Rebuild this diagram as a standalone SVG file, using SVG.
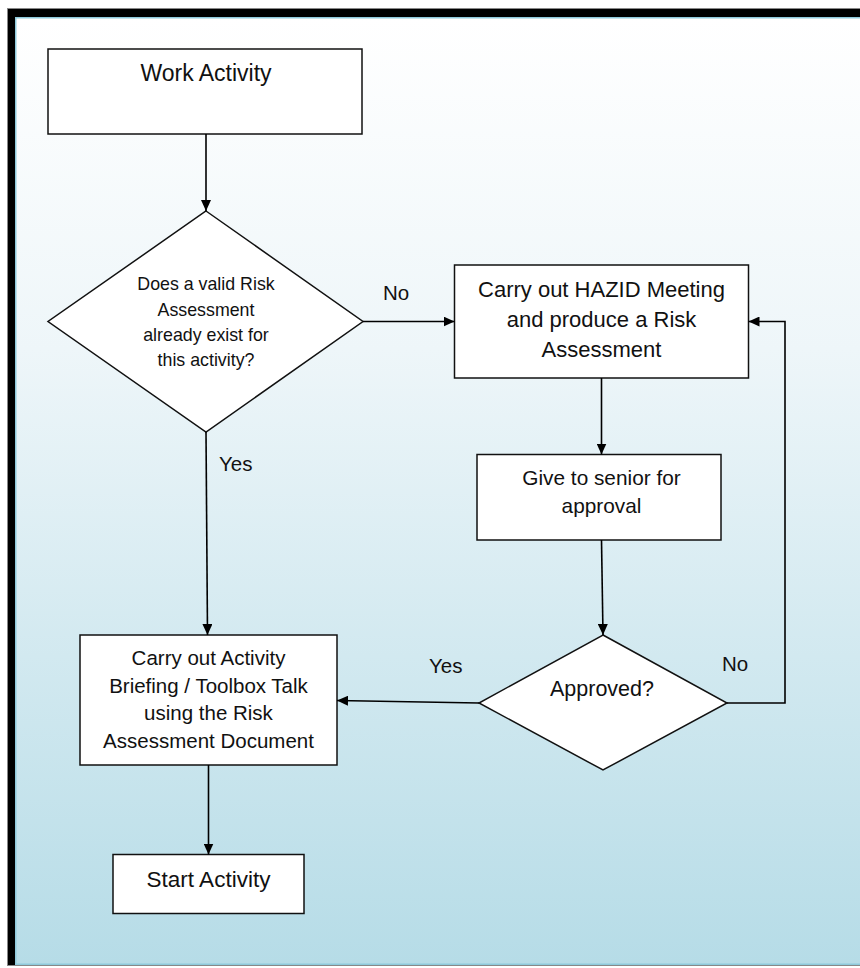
<svg xmlns="http://www.w3.org/2000/svg" width="860" height="968" viewBox="0 0 860 968">
<defs>
<linearGradient id="bg" x1="0" y1="0" x2="0" y2="1">
<stop offset="0" stop-color="#ffffff"/>
<stop offset="0.35" stop-color="#eef6f9"/>
<stop offset="1" stop-color="#b6dce7"/>
</linearGradient>
<marker id="ah" markerUnits="userSpaceOnUse" markerWidth="12" markerHeight="10" refX="11" refY="5" orient="auto">
<path d="M0,0 L11,5 L0,10 z" fill="#000"/>
</marker>
<style>
.box{fill:#fff;stroke:#111;stroke-width:1.5}
.t{font-family:"Liberation Sans",Arial,sans-serif;fill:#111;text-anchor:middle}
.lbl{font-family:"Liberation Sans",Arial,sans-serif;fill:#111;font-size:20.5px}
.c{fill:none;stroke:#000;stroke-width:1.6;marker-end:url(#ah)}
</style>
</defs>
<rect x="0" y="0" width="860" height="968" fill="#fff"/>
<rect x="7" y="8" width="853" height="958" fill="#888"/>
<rect x="8" y="9" width="852" height="956" fill="#000"/>
<rect x="15" y="17" width="845" height="948" fill="#8fcadc"/>
<rect x="16.5" y="18.5" width="843.5" height="945" fill="url(#bg)"/>

<g id="work-activity">
<rect class="box" x="48" y="49" width="314" height="85"/>
<text class="t" x="206" y="80.5" font-size="23">Work Activity</text>
</g>
<g id="decision-valid-ra">
<polygon class="box" points="206,211 363,321.5 206,432 48,321.5"/>
<text class="t" font-size="17.8"><tspan x="206" y="290">Does a valid Risk</tspan><tspan x="206" y="315.5">Assessment</tspan><tspan x="206" y="340.5">already exist for</tspan><tspan x="206" y="365.5">this activity?</tspan></text>
</g>
<g id="hazid">
<rect class="box" x="454.5" y="265" width="294" height="113"/>
<text class="t" font-size="22"><tspan x="601.5" y="297">Carry out HAZID Meeting</tspan><tspan x="601.5" y="327">and produce a Risk</tspan><tspan x="601.5" y="357">Assessment</tspan></text>
</g>
<g id="give-senior">
<rect class="box" x="477" y="454.5" width="244" height="85.5"/>
<text class="t" font-size="20.8"><tspan x="601.5" y="485">Give to senior for</tspan><tspan x="601.5" y="512.5">approval</tspan></text>
</g>
<g id="approved">
<polygon class="box" points="603,635 727,703 603,770 479,703"/>
<text class="t" x="602" y="696" font-size="21.5">Approved?</text>
</g>
<g id="briefing">
<rect class="box" x="80" y="635" width="257" height="130"/>
<text class="t" font-size="20.5"><tspan x="208.5" y="665">Carry out Activity</tspan><tspan x="208.5" y="692.5">Briefing / Toolbox Talk</tspan><tspan x="208.5" y="720">using the Risk</tspan><tspan x="208.5" y="748">Assessment Document</tspan></text>
</g>
<g id="start-activity">
<rect class="box" x="113" y="854.5" width="191" height="59"/>
<text class="t" x="208.5" y="887" font-size="22.5">Start Activity</text>
</g>

<g id="connectors">
<path class="c" d="M206,134 L206,211"/>
<path class="c" d="M363,321.5 L454.5,321.5"/>
<path class="c" d="M601.5,378 L601.5,454.5"/>
<path class="c" d="M601.5,540 L603,635"/>
<path class="c" d="M727,703 L785,703 L785,321.5 L748.5,321.5"/>
<path class="c" d="M479,703 L337,700.5"/>
<path class="c" d="M206,432 L207.5,635"/>
<path class="c" d="M208.5,765 L208.5,854.5"/>
<text class="lbl" x="383" y="300">No</text>
<text class="lbl" x="219" y="471">Yes</text>
<text class="lbl" x="429" y="673">Yes</text>
<text class="lbl" x="722" y="671">No</text>
</g>
</svg>
